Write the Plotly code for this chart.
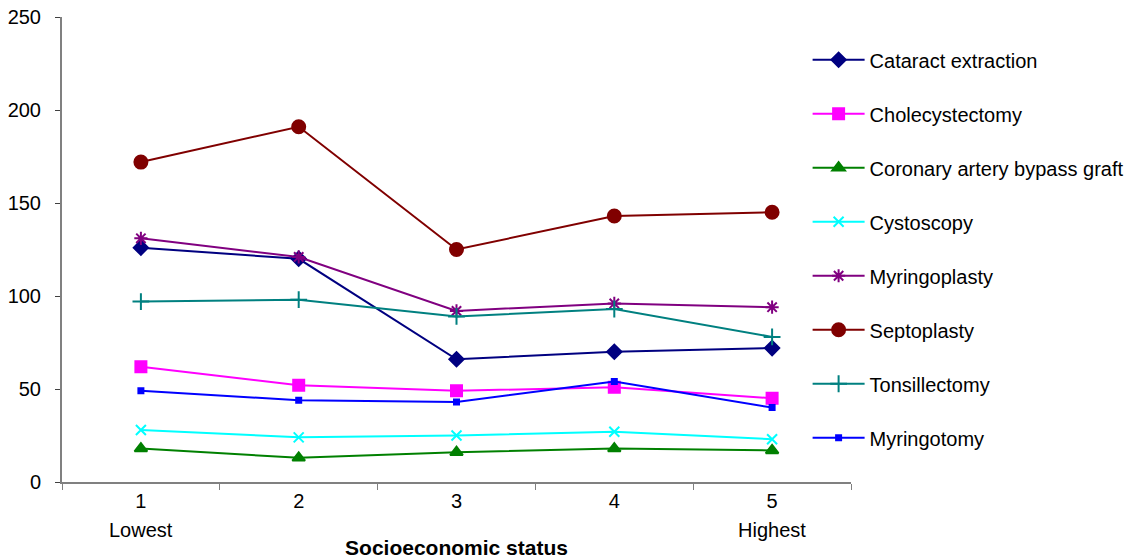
import plotly.graph_objects as go

# Socioeconomic status quintiles (1 = lowest, 5 = highest)
categories = ["1", "2", "3", "4", "5"]

cataract_extraction = [126, 120, 66, 70, 72]
cholecystectomy = [62, 52, 49, 51, 45]
coronary_bypass = [18, 13, 16, 18, 17]
cystoscopy = [28, 24, 25, 27, 23]
myringoplasty = [131, 121, 92, 96, 94]
septoplasty = [172, 191, 125, 143, 145]
tonsillectomy = [97, 98, 89, 93, 78]
myringotomy = [49, 44, 43, 54, 40]

series = [
    ("Cataract extraction", cataract_extraction, "#000080", "diamond", 11),
    ("Cholecystectomy", cholecystectomy, "#FF00FF", "square", 11),
    ("Coronary artery bypass graft", coronary_bypass, "#008000", "triangle-up", 11),
    ("Cystoscopy", cystoscopy, "#00FFFF", "x-thin-open", 10),
    ("Myringoplasty", myringoplasty, "#800080", "asterisk-open", 11),
    ("Septoplasty", septoplasty, "#800000", "circle", 13),
    ("Tonsillectomy", tonsillectomy, "#008080", "cross-thin-open", 12),
    ("Myringotomy", myringotomy, "#0000FF", "square", 5),
]

fig = go.Figure()
for i, (name, vals, color, symbol, size) in enumerate(series):
    fig.add_trace(go.Scatter(
        x=categories, y=vals, name=name, mode="lines+markers",
        legendgroup=f"g{i}",
        line=dict(color=color, width=2),
        marker=dict(symbol=symbol, size=size, color=color,
                    line=dict(color=color, width=2)),
    ))

# Extra labels under the end categories (category index positions)
for idx, txt in [(0, "Lowest"), (4, "Highest")]:
    fig.add_annotation(x=idx, y=0, xref="x", yref="paper",
                       yanchor="middle", yshift=-48,
                       text=txt, showarrow=False,
                       font=dict(size=20, color="black"))

fig.update_layout(
    width=1146, height=559,
    margin=dict(l=62, r=295, t=17, b=77, autoexpand=False),
    paper_bgcolor="white", plot_bgcolor="white",
    font=dict(family="Liberation Sans, Arial, sans-serif", size=20, color="black"),
    legend=dict(x=0.945, xanchor="left", y=0.95, yanchor="top",
                font=dict(size=20), tracegroupgap=25,
                itemwidth=52, bgcolor="rgba(0,0,0,0)"),
    showlegend=True,
)
fig.update_xaxes(
    type="category", range=[-0.5, 4.5], tickson="boundaries",
    ticks="outside", ticklen=6, ticklabelstandoff=0,
    tickcolor="#808080", showline=True, linecolor="#808080", linewidth=2,
    showgrid=False, zeroline=False,
    title=dict(text="<b>Socioeconomic status</b>", font=dict(size=21), standoff=36),
)
fig.update_yaxes(
    range=[0, 250], dtick=50, ticks="outside", ticklen=5, tickcolor="#404040",
    ticklabelstandoff=10,
    showline=True, linecolor="#808080", linewidth=2,
    showgrid=False, zeroline=False,
)

fig.write_html("out.html")
